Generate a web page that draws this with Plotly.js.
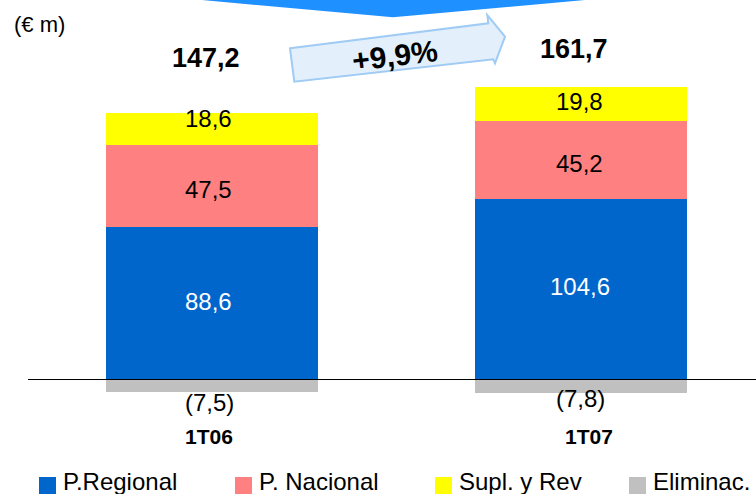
<!DOCTYPE html>
<html><head><meta charset="utf-8">
<script src="https://cdn.plot.ly/plotly-3.0.1.min.js"></script>
<style>html,body{margin:0;padding:0;background:#fff;overflow:hidden}</style>
</head><body><div id="chart" style="width:756px;height:494px"></div>
<script>
// ---- data ----
const categories = ['1T06', '1T07'];
const seriesNames = ['P.Regional', 'P. Nacional', 'Supl. y Rev', 'Eliminac.'];
const regional = [88.6, 104.6];
const nacional = [47.5, 45.2];
const suplRev = [18.6, 19.8];
const eliminac = [-7.5, -7.8];
const totals = [147.2, 161.7];
const growthLabel = '+9,9%';
const unitLabel = '(€ m)';

// ---- style ----
const colors = ['#0066cc', '#ff8080', '#ffff00', '#c0c0c0'];
const FONT = '"Liberation Sans", Arial, sans-serif';
const W = 756, H = 494, ML = 28, MR = 0, MT = 20, MB = 74;
const PW = W - ML - MR, PH = H - MT - MB;
const px = X => (X - ML) / PW;
const py = Y => (H - MB - Y) / PH;
const fmt = v => v.toFixed(1).replace('.', ',');

const seriesVals = [regional, nacional, suplRev, eliminac];
const traces = seriesVals.map((vals, k) => ({
  type: 'bar', x: categories, y: vals, name: seriesNames[k],
  width: 0.572, marker: {color: colors[k], line: {width: 0}},
  hoverinfo: 'none', showlegend: false
}));

const ann = [];
const A = o => ann.push(Object.assign({showarrow: false, xanchor: 'center', yanchor: 'middle'}, o));
// segment labels
const segShift = [[2, -4, 10], [2.7, -3.7, 3.2]];
const segX = [-3, -1];
categories.forEach((c, i) => {
  let base = 0;
  [regional, nacional, suplRev].forEach((vals, s) => {
    const v = vals[i];
    A({x: c, y: base + v / 2, xref: 'x', yref: 'y', text: fmt(v),
      xshift: segX[i], yshift: segShift[i][s],
      font: {family: FONT, size: 24, color: s === 0 ? '#ffffff' : '#000000'}});
    base += v;
  });
  // negative labels
  A({x: c, y: eliminac[i], xref: 'x', yref: 'y', text: '(' + fmt(-eliminac[i]) + ')',
    xshift: i === 0 ? -2 : 0, yshift: i === 0 ? -9.6 : -6,
    font: {family: FONT, size: 24, color: '#000'}});
  // totals
  A({x: c, xref: 'x', y: py(i === 0 ? 58 : 49), yref: 'paper', text: '<b>' + fmt(totals[i]) + '</b>',
    xshift: i === 0 ? -6 : -7, font: {family: FONT, size: 27, color: '#000'}});
  // category labels
  A({x: c, xref: 'x', y: py(436), yref: 'paper', text: '<b>' + c + '</b>',
    xshift: i === 0 ? -3 : 8, font: {family: FONT, size: 21, color: '#000'}});
});
// growth
A({x: px(395), y: py(56), xref: 'paper', yref: 'paper', text: '<b>' + growthLabel + '</b>',
  textangle: -7, font: {family: FONT, size: 30, color: '#000'}});
// unit
A({x: px(12), y: py(25), xref: 'paper', yref: 'paper', xanchor: 'left', text: unitLabel,
  font: {family: FONT, size: 22, color: '#000'}});

const shapes = [];
// zero line
shapes.push({type: 'line', xref: 'paper', yref: 'y', x0: 0, x1: 1, y0: 0, y1: 0,
  line: {color: '#000', width: 1.2}, layer: 'above'});
// top blue chevron
const pth = pts => 'M' + pts.map(p => px(p[0]).toFixed(5) + ',' + py(p[1]).toFixed(5)).join(' L') + ' Z';
shapes.push({type: 'path', xref: 'paper', yref: 'paper',
  path: pth([[196, -6], [202, 0], [393, 17.3], [585, 0], [591, -6]]),
  fillcolor: '#1e90ff', line: {width: 0}});
// growth arrow
shapes.push({type: 'path', xref: 'paper', yref: 'paper',
  path: pth([[290, 48.3], [488.3, 23.3], [487.3, 15], [505, 36.7], [495, 63.3], [493.3, 59.3], [294.3, 81.7]]),
  fillcolor: '#e3f0fc', line: {color: '#9fcbf4', width: 2}, layer: 'below'});
// legend
const legX = [39, 235, 435, 629];
seriesNames.forEach((n, k) => {
  shapes.push({type: 'rect', xref: 'paper', yref: 'paper', x0: px(legX[k]), x1: px(legX[k] + 17),
    y0: py(477), y1: py(494), fillcolor: colors[k], line: {width: 0}});
  A({x: px(legX[k] + 22), y: py(481), xref: 'paper', yref: 'paper', xanchor: 'left', text: n,
    font: {family: FONT, size: 24, color: '#000'}});
});

const scale = 1.7236;
const layout = {
  width: W, height: H, margin: {l: ML, r: MR, t: MT, b: MB},
  paper_bgcolor: '#fff', plot_bgcolor: '#fff',
  barmode: 'relative', bargap: 0,
  xaxis: {type: 'category', range: [-0.4986, 1.4743], showticklabels: false, showgrid: false,
    zeroline: false, showline: false, ticks: ''},
  yaxis: {range: [-(H - MB - 379.5) / scale, (379.5 - MT) / scale], showticklabels: false,
    showgrid: false, zeroline: false, showline: false, ticks: ''},
  annotations: ann, shapes: shapes, showlegend: false
};
Plotly.newPlot('chart', traces, layout, {staticPlot: true, displayModeBar: false});
</script></body></html>
